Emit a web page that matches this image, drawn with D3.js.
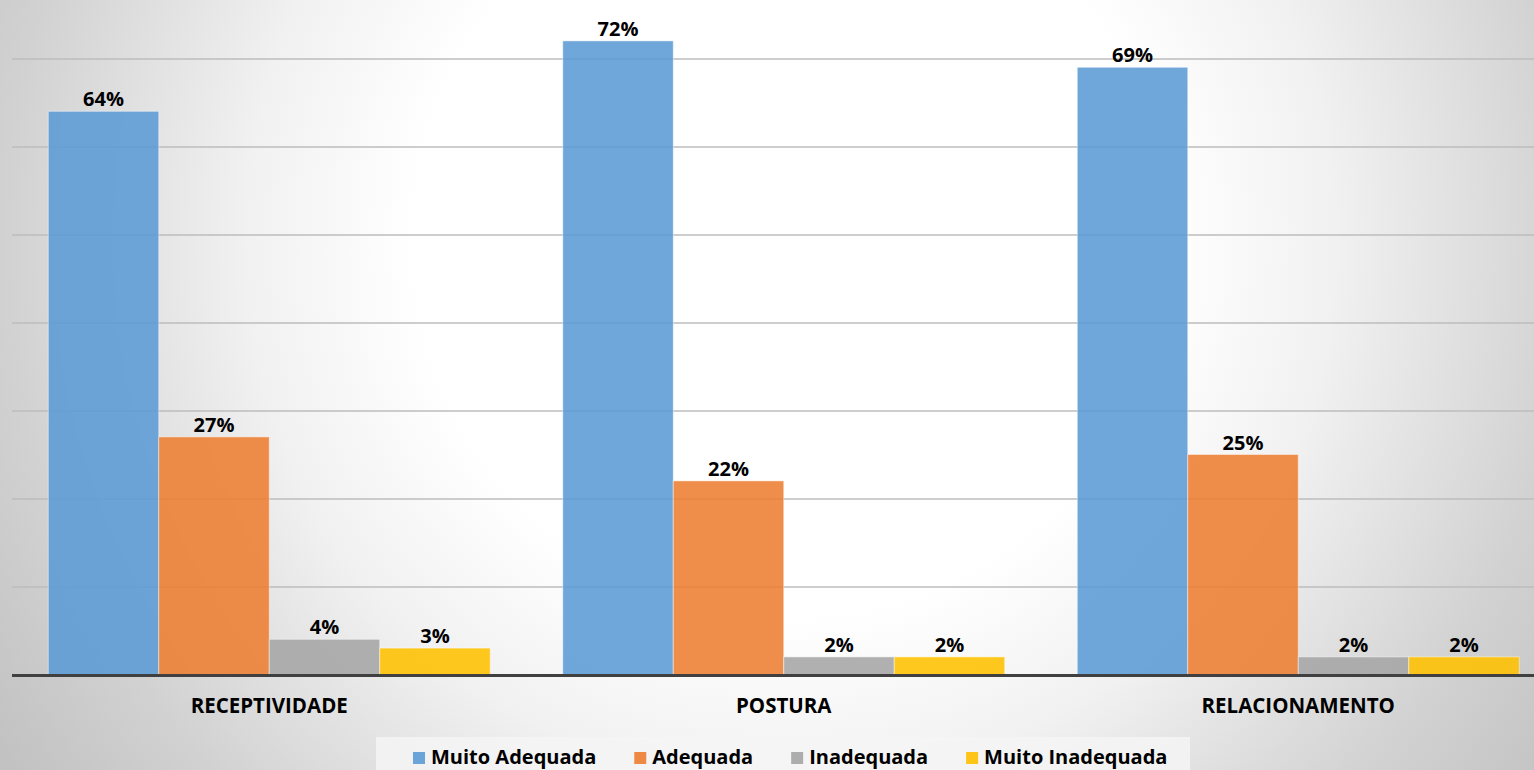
<!DOCTYPE html>
<html>
<head>
<meta charset="utf-8">
<script src="https://cdn.jsdelivr.net/npm/d3@7"></script>
<style>
  html, body { margin: 0; padding: 0; overflow: hidden; }
  text { font-family: "Open Sans", "Noto Sans", sans-serif; font-weight: bold; fill: #000; }
</style>
</head>
<body>
<div id="chart"></div>
<script>
var categories = ["RECEPTIVIDADE", "POSTURA", "RELACIONAMENTO"];
var seriesNames = ["Muito Adequada", "Adequada", "Inadequada", "Muito Inadequada"];
var muitoAdequada = [64, 72, 69];
var adequada = [27, 22, 25];
var inadequada = [4, 2, 2];
var muitoInadequada = [3, 2, 2];
var gridTicks = [10, 20, 30, 40, 50, 60, 70];

var colors = ["#5b9bd5", "#ed7d31", "#a5a5a5", "#ffc000"];
var seriesValues = [muitoAdequada, adequada, inadequada, muitoInadequada];

var W = 1534, H = 770;

// rows used by the grouped bars
var rows = categories.map(function(c, i){
  return {cat: c, vals: seriesNames.map(function(s, j){ return {key: s, value: seriesValues[j][i]}; })};
});

var svg = d3.select("#chart").append("svg")
  .attr("width", W)
  .attr("height", H);

// background: soft radial gray gradient
var defs = svg.append("defs");
var grad = defs.append("radialGradient")
  .attr("id", "bg")
  .attr("gradientUnits", "userSpaceOnUse")
  .attr("cx", 790).attr("cy", 240).attr("r", 940);
[[0, "#ffffff"], [0.4, "#ffffff"], [0.58, "#f1f1f1"], [0.83, "#d2d2d2"], [1, "#c2c2c2"]].forEach(function(s){
  grad.append("stop").attr("offset", s[0]).attr("stop-color", s[1]);
});
svg.append("rect").attr("width", W).attr("height", H).attr("fill", "url(#bg)");

var x0 = d3.scaleBand()
  .domain(categories)
  .range([12, 1555.5])
  .paddingInner(0.141)
  .paddingOuter(0.0705);

var x1 = d3.scaleBand()
  .domain(seriesNames)
  .range([0, x0.bandwidth()]);

var y = d3.scaleLinear()
  .domain([0, 80])
  .range([674.5, -29.5]);

var color = d3.scaleOrdinal().domain(seriesNames).range(colors);

// gridlines
var grid = svg.append("g")
  .attr("transform", "translate(12,0)")
  .call(d3.axisLeft(y).tickValues(gridTicks).tickSize(-(W - 12)).tickFormat(""));
grid.select(".domain").remove();
grid.selectAll(".tick line")
  .attr("stroke", "#bdbdbd")
  .attr("stroke-width", 1.5);

// bars
var groups = svg.selectAll(".grp")
  .data(rows)
  .enter().append("g")
  .attr("class", "grp")
  .attr("transform", function(d){ return "translate(" + x0(d.cat) + ",0)"; });

groups.selectAll("rect")
  .data(function(d){ return d.vals; })
  .enter().append("rect")
  .attr("x", function(d){ return x1(d.key); })
  .attr("y", function(d){ return y(d.value); })
  .attr("width", x1.bandwidth())
  .attr("height", function(d){ return y(0) - y(d.value); })
  .attr("fill", function(d){ return color(d.key); })
  .attr("fill-opacity", 0.88)
  .attr("stroke", "#ffffff")
  .attr("stroke-opacity", 0.45)
  .attr("stroke-width", 1);

groups.selectAll(".val")
  .data(function(d){ return d.vals; })
  .enter().append("text")
  .attr("class", "val")
  .attr("x", function(d){ return x1(d.key) + x1.bandwidth() / 2; })
  .attr("y", function(d){ return y(d.value) - 5; })
  .attr("text-anchor", "middle")
  .style("font-size", "20px")
  .text(function(d){ return d.value + "%"; });

// x axis line + category labels
svg.append("line")
  .attr("x1", 12).attr("x2", W)
  .attr("y1", y(0) + 1).attr("y2", y(0) + 1)
  .attr("stroke", "#404040")
  .attr("stroke-width", 3);

svg.selectAll(".cat")
  .data(categories)
  .enter().append("text")
  .attr("class", "cat")
  .attr("x", function(d){ return x0(d) + x0.bandwidth() / 2; })
  .attr("y", 713)
  .attr("text-anchor", "middle")
  .style("font-size", "20.5px")
  .text(function(d){ return d; });

// legend
svg.append("rect")
  .attr("x", 376).attr("y", 737)
  .attr("width", 814).attr("height", 40)
  .attr("fill", "#f4f4f4")
  .attr("fill-opacity", 0.85);

var legend = svg.append("g");
var lx = 413;
seriesNames.forEach(function(s){
  var item = legend.append("g").attr("transform", "translate(" + lx + ",0)");
  item.append("rect")
    .attr("x", 0).attr("y", 752)
    .attr("width", 12).attr("height", 12)
    .attr("fill", color(s))
    .attr("fill-opacity", 0.9);
  var t = item.append("text")
    .attr("x", 18).attr("y", 764)
    .style("font-size", "20px")
    .text(s);
  lx += 18 + t.node().getComputedTextLength() + 38;
});
</script>
</body>
</html>
